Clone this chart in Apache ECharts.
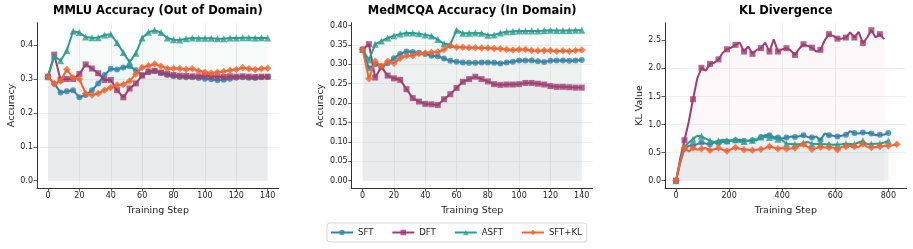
<!DOCTYPE html>
<html><head><meta charset="utf-8">
<script src="https://cdn.jsdelivr.net/npm/echarts@6/dist/echarts.min.js"></script>
<style>html,body{margin:0;padding:0;background:#fff}#c{width:913px;height:249px}</style>
</head><body><div id="c"></div>
<script>
// ---------- data ----------
const seriesNames = ['SFT', 'DFT', 'ASFT', 'SFT+KL'];
const panelTitles = ['MMLU Accuracy (Out of Domain)', 'MedMCQA Accuracy (In Domain)', 'KL Divergence'];
const yNames = ['Accuracy', 'Accuracy', 'KL Value'];
const xName = 'Training Step';

const accSteps = [0,4,8,12,16,20,24,28,32,36,40,44,48,52,56,60,64,68,72,76,80,84,88,92,96,100,104,108,112,116,120,124,128,132,136,140];

const mmluSFT  = [0.307,0.287,0.260,0.264,0.267,0.246,0.253,0.267,0.287,0.312,0.330,0.328,0.334,0.338,0.326,0.312,0.320,0.324,0.318,0.312,0.308,0.306,0.305,0.305,0.303,0.301,0.299,0.296,0.298,0.301,0.304,0.305,0.304,0.303,0.305,0.306];
const mmluDFT  = [0.307,0.372,0.298,0.300,0.300,0.315,0.343,0.331,0.317,0.297,0.297,0.267,0.246,0.272,0.287,0.310,0.322,0.324,0.319,0.315,0.312,0.310,0.309,0.308,0.308,0.310,0.308,0.307,0.306,0.308,0.307,0.308,0.307,0.306,0.307,0.307];
const mmluASFT = [0.307,0.368,0.354,0.384,0.441,0.437,0.424,0.422,0.422,0.430,0.432,0.407,0.378,0.350,0.376,0.421,0.438,0.444,0.437,0.421,0.416,0.415,0.419,0.421,0.420,0.420,0.420,0.419,0.419,0.421,0.421,0.422,0.422,0.421,0.422,0.421];
const mmluKL   = [0.307,0.285,0.294,0.328,0.304,0.300,0.257,0.253,0.257,0.267,0.275,0.282,0.284,0.294,0.315,0.334,0.339,0.344,0.338,0.331,0.331,0.331,0.328,0.330,0.324,0.320,0.318,0.320,0.322,0.326,0.328,0.333,0.330,0.328,0.330,0.332];

const medSFT  = [0.338,0.290,0.300,0.295,0.303,0.316,0.327,0.333,0.332,0.330,0.327,0.322,0.321,0.315,0.309,0.307,0.305,0.304,0.304,0.305,0.305,0.304,0.302,0.305,0.307,0.310,0.310,0.310,0.308,0.306,0.309,0.310,0.310,0.309,0.310,0.311];
const medDFT  = [0.338,0.352,0.266,0.293,0.271,0.264,0.260,0.236,0.213,0.204,0.198,0.197,0.195,0.210,0.223,0.239,0.255,0.262,0.268,0.262,0.256,0.249,0.247,0.248,0.248,0.249,0.252,0.252,0.250,0.248,0.244,0.242,0.242,0.241,0.240,0.240];
const medASFT = [0.338,0.311,0.352,0.360,0.368,0.374,0.378,0.381,0.381,0.379,0.376,0.373,0.364,0.353,0.351,0.388,0.380,0.380,0.381,0.380,0.375,0.376,0.381,0.384,0.385,0.386,0.386,0.386,0.386,0.387,0.388,0.387,0.387,0.387,0.388,0.388];
const medKL   = [0.338,0.263,0.308,0.295,0.308,0.303,0.316,0.322,0.322,0.328,0.329,0.331,0.332,0.338,0.348,0.344,0.344,0.343,0.343,0.342,0.342,0.341,0.340,0.338,0.337,0.338,0.338,0.336,0.335,0.336,0.336,0.334,0.335,0.334,0.336,0.337];

const klSteps = [0,16,32,48,64,80,96,112,128,144,160,176,192,208,224,240,256,272,288,304,320,336,352,368,384,400,416,432,448,464,480,496,512,528,544,560,576,592,608,624,640,656,672,688,704,720,736,752,768,784,800,816,832];
const klSFT  = [0,0.32,0.57,0.62,0.63,0.65,0.68,0.66,0.65,0.68,0.67,0.69,0.70,0.71,0.72,0.73,0.71,0.71,0.72,0.72,0.78,0.81,0.81,0.78,0.77,0.75,0.77,0.785,0.78,0.79,0.81,0.78,0.77,0.785,0.72,0.84,0.81,0.80,0.785,0.80,0.82,0.88,0.85,0.84,0.86,0.85,0.84,0.81,0.82,0.82,0.85];
const klDFT  = [0,0.40,0.72,1.05,1.45,1.82,2.01,1.96,2.08,2.10,2.16,2.28,2.34,2.37,2.42,2.46,2.30,2.39,2.26,2.33,2.36,2.46,2.30,2.52,2.30,2.34,2.36,2.32,2.24,2.35,2.43,2.40,2.37,2.30,2.33,2.50,2.61,2.58,2.53,2.53,2.55,2.64,2.55,2.65,2.45,2.55,2.68,2.55,2.61,2.52];
const klASFT = [0,0.35,0.60,0.68,0.74,0.80,0.79,0.75,0.71,0.69,0.71,0.73,0.71,0.72,0.73,0.69,0.70,0.71,0.72,0.74,0.78,0.78,0.77,0.75,0.74,0.72,0.66,0.655,0.65,0.65,0.67,0.69,0.66,0.655,0.65,0.65,0.65,0.64,0.645,0.65,0.66,0.655,0.65,0.68,0.71,0.65,0.655,0.66,0.66,0.68,0.71];
const klKL   = [0,0.35,0.59,0.52,0.58,0.55,0.57,0.58,0.54,0.56,0.58,0.55,0.53,0.56,0.59,0.57,0.55,0.55,0.54,0.55,0.56,0.58,0.61,0.59,0.57,0.58,0.57,0.575,0.58,0.62,0.65,0.60,0.56,0.58,0.60,0.59,0.59,0.59,0.55,0.60,0.61,0.62,0.61,0.60,0.66,0.60,0.59,0.60,0.61,0.62,0.62,0.63,0.65];

const mmluYTicks = [0, 0.1, 0.2, 0.3, 0.4];
const medYTicks = [0, 0.05, 0.10, 0.15, 0.20, 0.25, 0.30, 0.35, 0.40];
const klYTicks = [0, 0.5, 1.0, 1.5, 2.0, 2.5];
const accXTicks = [0, 20, 40, 60, 80, 100, 120, 140];
const klXTicks = [0, 200, 400, 600, 800];

// ---------- style ----------
const colors = ['#2E86AB', '#A23B72', '#2A9D8F', '#F26430'];
const fillOpacity = [0.045, 0.035, 0.045, 0.025];
const symbols = ['circle', 'rect', 'triangle', 'diamond'];
const symSizes = [6, 6, 7, 7.5];
const FONT = 'DejaVu Sans';
const grids = [
  {left: 37, top: 22.7, width: 241.7, height: 165.5},
  {left: 351.7, top: 22.7, width: 241, height: 165.5},
  {left: 665, top: 22.7, width: 241.7, height: 165.5}
];
const xRanges = [[-7, 147], [-7, 147], [-41.5, 869]];
const yRanges = [[-0.0222, 0.4662], [-0.0194, 0.4074], [-0.134, 2.814]];
const yTicksAll = [mmluYTicks, medYTicks, klYTicks];
const xTicksAll = [accXTicks, accXTicks, klXTicks];
const yDecimals = [1, 2, 1];
const yNameGaps = [19, 24, 19];

const panelData = [
  [mmluSFT, mmluDFT, mmluASFT, mmluKL],
  [medSFT, medDFT, medASFT, medKL],
  [klSFT, klDFT, klASFT, klKL]
];
const panelSteps = [accSteps, accSteps, klSteps];

const series = [];
panelData.forEach((arrs, gi) => {
  arrs.forEach((vals, si) => {
    const steps = panelSteps[gi];
    const data = vals.map((v, i) => [steps[i], v]);
    const sparse = gi === 2;
    series.push({
      type: 'line', name: seriesNames[si], xAxisIndex: gi, yAxisIndex: gi,
      data: data, symbol: symbols[si], showAllSymbol: true,
      symbolSize: sparse ? function (v, p) { return p.dataIndex % 2 === 0 ? symSizes[si] : 0; } : symSizes[si],
      lineStyle: {width: 2, color: colors[si]},
      itemStyle: {color: colors[si], opacity: 0.8},
      areaStyle: {color: colors[si], opacity: fillOpacity[si]},
      emphasis: {disabled: true}, z: 2 + si, silent: true
    });
  });
});

const axisCommon = {
  axisLine: {show: true, onZero: false, lineStyle: {color: '#333', width: 1}},
  splitLine: {show: true, showMinLine: false, showMaxLine: false, lineStyle: {color: '#ececec', width: 0.8}},
  nameTextStyle: {fontFamily: FONT, fontSize: 9.5, color: '#222'}
};

const xAxes = grids.map((g, i) => Object.assign({}, axisCommon, {
  type: 'value', gridIndex: i, min: xRanges[i][0], max: xRanges[i][1],
  minInterval: xTicksAll[i][1] - xTicksAll[i][0], maxInterval: xTicksAll[i][1] - xTicksAll[i][0],
  name: xName, nameLocation: 'middle', nameGap: 16,
  axisTick: {show: true, length: 3.5, lineStyle: {color: '#333', width: 0.8}, customValues: xTicksAll[i]},
  axisLabel: {fontFamily: FONT, fontSize: 8, color: '#222', margin: 4, showMinLabel: true, showMaxLabel: true, hideOverlap: false, customValues: xTicksAll[i],
    formatter: v => String(Math.round(v))}
}));
const yAxes = grids.map((g, i) => Object.assign({}, axisCommon, {
  type: 'value', gridIndex: i, min: yRanges[i][0], max: yRanges[i][1],
  minInterval: yTicksAll[i][1] - yTicksAll[i][0], maxInterval: yTicksAll[i][1] - yTicksAll[i][0],
  name: yNames[i], nameLocation: 'middle', nameGap: yNameGaps[i],
  axisTick: {show: true, length: 3.5, lineStyle: {color: '#333', width: 0.8}, customValues: yTicksAll[i]},
  axisLabel: {fontFamily: FONT, fontSize: 8, color: '#222', margin: 4, showMinLabel: true, showMaxLabel: true, hideOverlap: false, customValues: yTicksAll[i],
    formatter: v => v.toFixed(yDecimals[i])}
}));

const titleGraphics = grids.map((g, i) => ({
  type: 'text', x: g.left + g.width / 2, y: 11, silent: true,
  style: {text: panelTitles[i], align: 'center', verticalAlign: 'middle', fill: '#000',
    font: 'bold 11.5px "DejaVu Sans"'}
}));

const chart = echarts.init(document.getElementById('c'), null, {renderer: 'canvas'});
chart.setOption({
  animation: false,
  backgroundColor: '#fff',
  color: colors,
  grid: grids,
  xAxis: xAxes,
  yAxis: yAxes,
  series: series,
  graphic: titleGraphics,
  legend: {
    data: seriesNames, left: 327, top: 223, orient: 'horizontal',
    padding: [5, 5, 5, 3], itemGap: 18, itemWidth: 22, itemHeight: 7,
    borderColor: '#cccccc', borderWidth: 0.8, borderRadius: 3,
    textStyle: {fontFamily: FONT, fontSize: 8.5, color: '#222'},
    selectedMode: false
  }
});
</script></body></html>
